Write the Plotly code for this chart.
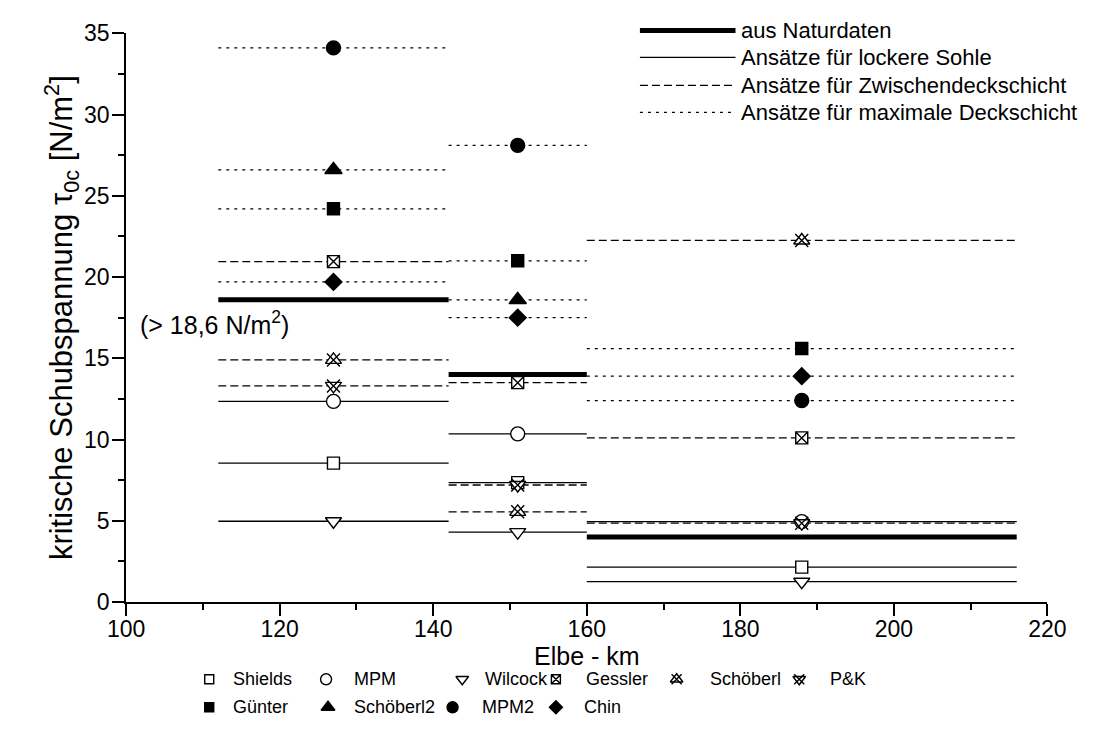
import plotly.graph_objects as go

W, H = 1106, 756

# Elbe-km sections and the position of the method markers in each section
km_start = [112, 142, 160]
km_end = [142, 160, 216]
km_mid = [127, 151, 188]

# critical shear stress tau_0c [N/m^2]
natur = [18.6, 14.0, 4.0]            # aus Naturdaten

shields = [8.55, 7.35, 2.15]         # lockere Sohle
mpm = [12.35, 10.35, 4.95]
wilcock = [4.97, 4.3, 1.25]

gessler = [20.95, 13.5, 10.1]        # Zwischendeckschicht
schoeberl = [14.9, 5.55, 22.25]
pk = [13.3, 7.2, 4.85]

guenter = [24.2, 21.0, 15.6]         # maximale Deckschicht
schoeberl2 = [26.6, 18.6, None]
mpm2 = [34.1, 28.1, 12.4]
chin = [19.7, 17.5, 13.9]

x_ticks = [100, 120, 140, 160, 180, 200, 220]
y_ticks = [0, 5, 10, 15, 20, 25, 30, 35]

FONT = "Liberation Sans, Arial, sans-serif"
DASH = "8px,4px"
DOT = "3px,5px"

# name, values, line dash, list of (symbol, size, filled)
methods = [
    ("Shields", shields, "solid", [("square", 12, False)]),
    ("MPM", mpm, "solid", [("circle", 14, False)]),
    ("Wilcock", wilcock, "solid", [("triangle-down", 14, False)]),
    ("Gessler", gessler, DASH, [("square-x", 12, False)]),
    ("Schöberl", schoeberl, DASH, [("triangle-up", 14, False), ("x-thin", 13, False)]),
    ("P&K", pk, DASH, [("triangle-down", 14, False), ("x-thin", 13, False)]),
    ("Günter", guenter, DOT, [("square", 12, True)]),
    ("Schöberl2", schoeberl2, DOT, [("triangle-up", 15, True)]),
    ("MPM2", mpm2, DOT, [("circle", 14, True)]),
    ("Chin", chin, DOT, [("diamond", 13, True)]),
]


def segments(values):
    xs, ys = [], []
    for a, b, v in zip(km_start, km_end, values):
        if v is None:
            continue
        xs += [a, b, None]
        ys += [v, v, None]
    return xs, ys


def marker_style(symbol, size, filled):
    if symbol == "x-thin":
        return dict(symbol="x-thin", size=size, line=dict(color="black", width=1.4))
    return dict(symbol=symbol, size=size,
                color="black" if filled else "white",
                line=dict(color="black", width=1.4))


fig = go.Figure()

# horizontal method lines per section
for name, vals, dash, syms in methods:
    xs, ys = segments(vals)
    fig.add_trace(go.Scatter(x=xs, y=ys, mode="lines", showlegend=False,
                             line=dict(color="black", width=1.3, dash=dash),
                             hoverinfo="skip"))

# field data (thick)
xs, ys = segments(natur)
fig.add_trace(go.Scatter(x=xs, y=ys, mode="lines", showlegend=False,
                         line=dict(color="black", width=5), name="aus Naturdaten"))

# markers at section centres
for name, vals, dash, syms in methods:
    mx = [m for m, v in zip(km_mid, vals) if v is not None]
    my = [v for v in vals if v is not None]
    for sym, size, filled in syms:
        fig.add_trace(go.Scatter(x=mx, y=my, mode="markers", name=name, showlegend=False,
                                 marker=marker_style(sym, size, filled)))

# ---- legends drawn on a full-figure pixel overlay ----
def px_line(x0, x1, y, width, dash):
    fig.add_trace(go.Scatter(x=[x0, x1], y=[y, y], mode="lines", xaxis="x2", yaxis="y2",
                             showlegend=False, hoverinfo="skip",
                             line=dict(color="black", width=width, dash=dash)))


def px_text(x, y, text, size):
    fig.add_annotation(x=x, y=y, xref="x2", yref="y2", text=text, showarrow=False,
                       xanchor="left", yanchor="middle",
                       font=dict(family=FONT, size=size, color="black"))


line_legend = [
    ("aus Naturdaten", 5, "solid"),
    ("Ansätze für lockere Sohle", 1.3, "solid"),
    ("Ansätze für Zwischendeckschicht", 1.3, DASH),
    ("Ansätze für maximale Deckschicht", 1.3, DOT),
]
for (label, w_, d_), yy in zip(line_legend, [18, 46, 75, 103]):
    px_line(643, 742, yy, w_, d_)
    px_text(746, yy, label, 22)

sym_legend_pos = {
    "Shields": (197, 220, 690), "MPM": (318, 345, 690), "Wilcock": (459, 480, 690),
    "Gessler": (556, 585, 690), "Schöberl": (681, 713, 690), "P&K": (808, 838, 690),
    "Günter": (197, 220, 719), "Schöberl2": (320, 345, 719), "MPM2": (449, 477, 719),
    "Chin": (556, 583, 719),
}
for name, vals, dash, syms in methods:
    sx, tx, yy = sym_legend_pos[name]
    for sym, size, filled in syms:
        fig.add_trace(go.Scatter(x=[sx], y=[yy], mode="markers", xaxis="x2", yaxis="y2",
                                 showlegend=False, cliponaxis=False,
                                 marker=marker_style(sym, size - 3, filled)))
    px_text(tx, yy, name, 18)

# label of the first field value
fig.add_annotation(x=101.5, y=17.2, xref="x", yref="y",
                   text="(> %s N/m<sup>2</sup>)" % str(natur[0]).replace(".", ","),
                   showarrow=False, xanchor="left", yanchor="middle",
                   font=dict(family=FONT, size=25, color="black"))

x0, x1 = 111, 1065
y_top, y_bot = 21, 610

axis_common = dict(showline=True, linecolor="black", linewidth=2, mirror=False,
                   ticks="outside", ticklen=12, tickwidth=2, tickcolor="black",
                   showgrid=False, zeroline=False, tickfont=dict(size=23))

fig.update_layout(
    width=W, height=H, margin=dict(l=0, r=0, t=0, b=0),
    paper_bgcolor="white", plot_bgcolor="rgba(0,0,0,0)",
    font=dict(family=FONT, size=23, color="black"),
    showlegend=False,
    xaxis=dict(domain=[x0 / W, x1 / W], range=[100, 220], tickvals=x_ticks, anchor="y",
               minor=dict(dtick=10, ticks="outside", ticklen=6, tickwidth=2, tickcolor="black"),
               ticklabelstandoff=-7,
               title=dict(text="Elbe - km", font=dict(size=25), standoff=0),
               **axis_common),
    yaxis=dict(domain=[1 - y_bot / H, 1 - y_top / H], range=[0, 35], tickvals=y_ticks, anchor="x",
               minor=dict(dtick=2.5, ticks="outside", ticklen=6, tickwidth=2, tickcolor="black"),
               ticklabelstandoff=-2,
               title=dict(text="kritische Schubspannung τ<sub>0c</sub> [N/m<sup>2</sup>]",
                          font=dict(size=31), standoff=1),
               **axis_common),
    xaxis2=dict(domain=[0, 1], range=[0, W], visible=False, anchor="y2", fixedrange=True),
    yaxis2=dict(domain=[0, 1], range=[H, 0], visible=False, anchor="x2", fixedrange=True),
)

fig.write_html("out.html")
